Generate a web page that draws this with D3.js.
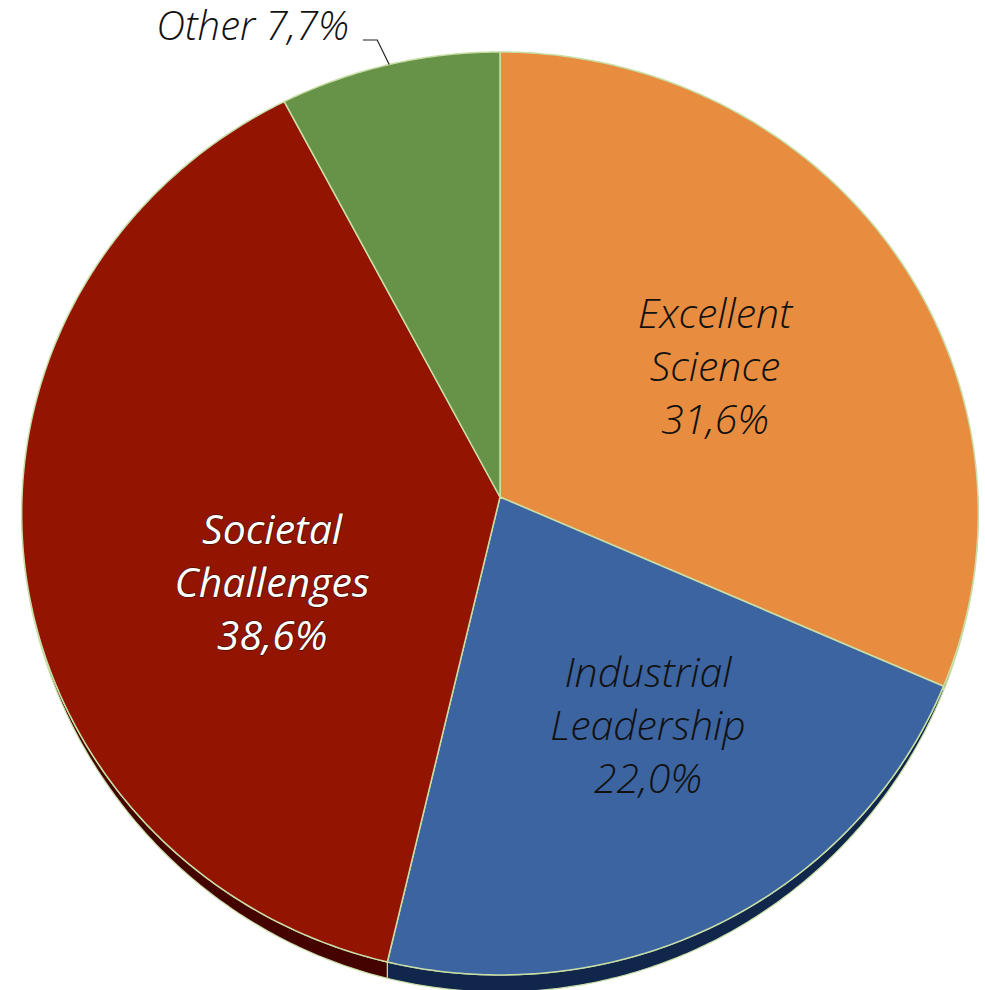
<!DOCTYPE html>
<html>
<head>
<meta charset="utf-8">
<script src="https://cdn.jsdelivr.net/npm/d3@7"></script>
<style>
  body { margin: 0; background: #fff; }
  text { font-family: "Open Sans", "Noto Sans", sans-serif; font-style: italic; }
</style>
</head>
<body>
<div id="chart"></div>
<script>
// data
const categories = ["Excellent Science", "Industrial Leadership", "Societal Challenges", "Other"];
const values = [31.6, 22.0, 38.6, 7.7];
const valueLabels = ["31,6%", "22,0%", "38,6%", "7,7%"];
const colors = ["#E88D40", "#3C64A0", "#921401", "#679349"];
const wallColors = ["#7a4010", "#10274B", "#450300", "#2e4a1e"];

const width = 985, height = 990;
const cx = 500, cy = 497;
const RX = 478, RY = 460.9, K = 0.0357; // perspective tilt

// label anchors in pie coords (angle deg, radius fraction), middle line
const labelLayout = [
  { angle: 57.8, r: 0.537, inside: true },
  { angle: 148.0, r: 0.574, inside: true },
  { angle: 248.8, r: 0.508, inside: true, white: true },
  { inside: false }
];

function proj(theta, rf) {
  const u = rf * Math.sin(theta), v = rf * Math.cos(theta);
  const s = 1 / (1 + K * v);
  return [cx + RX * u * s, cy - RY * v * s];
}
function depth(theta) {
  const v = Math.cos(theta);
  return 17 * Math.pow(Math.max(0, -v), 1.5);
}

const svg = d3.select("#chart").append("svg")
  .attr("width", width).attr("height", height);

const pie = d3.pie().sort(null).startAngle(0).endAngle(2 * Math.PI);
const arcs = pie(values);

function arcPoints(a0, a1) {
  const n = Math.max(2, Math.ceil((a1 - a0) / 0.01));
  return d3.range(n + 1).map(i => a0 + (a1 - a0) * i / n);
}

// side wall (front half only)
const wallG = svg.append("g");
arcs.forEach((d, i) => {
  const a0 = Math.max(d.startAngle, Math.PI / 2);
  const a1 = Math.min(d.endAngle, 3 * Math.PI / 2);
  if (a1 <= a0) return;
  const ts = arcPoints(a0, a1);
  const top = ts.map(t => proj(t, 1));
  const bot = ts.map(t => { const p = proj(t, 1); return [p[0], p[1] + depth(t)]; }).reverse();
  wallG.append("path")
    .attr("d", "M" + top.concat(bot).map(p => p.join(",")).join("L") + "Z")
    .attr("fill", wallColors[i])
    .attr("stroke", "#C9DEA6")
    .attr("stroke-width", 1.2)
    .attr("stroke-linejoin", "round");
});

// top faces
const faceG = svg.append("g");
arcs.forEach((d, i) => {
  const pts = [[cx, cy]].concat(arcPoints(d.startAngle, d.endAngle).map(t => proj(t, 1)));
  faceG.append("path")
    .attr("d", "M" + pts.map(p => p.join(",")).join("L") + "Z")
    .attr("fill", colors[i])
    .attr("stroke", "#C9DEA6")
    .attr("stroke-width", 1.5)
    .attr("stroke-linejoin", "round");
});

// labels
const fontSize = 41, lineH = 53;
const labelG = svg.append("g");
arcs.forEach((d, i) => {
  const L = labelLayout[i];
  if (L.inside) {
    const p = proj(L.angle * Math.PI / 180, L.r);
    const words = categories[i].split(" ").concat([valueLabels[i]]);
    const t = labelG.append("text")
      .attr("text-anchor", "middle")
      .attr("font-size", fontSize)
      .attr("font-weight", L.white ? 400 : 300)
      .attr("fill", L.white ? "#fff" : "#111");
    if (L.white) {
      t.attr("stroke", "#4a1208").attr("stroke-width", 1.4)
        .attr("paint-order", "stroke").attr("stroke-linejoin", "round");
    }
    words.forEach((w, j) => {
      t.append("tspan")
        .attr("x", p[0])
        .attr("y", p[1] + (j - 1) * lineH + fontSize * 0.36)
        .text(w);
    });
  } else {
    const mid = (d.startAngle + d.endAngle) / 2;
    const rim = proj(mid, 1);
    const lx = 349, ly = 40;
    labelG.append("text")
      .attr("x", lx).attr("y", ly)
      .attr("text-anchor", "end")
      .attr("font-size", 40)
      .attr("font-weight", 300)
      .attr("fill", "#111")
      .text(categories[i] + " " + valueLabels[i]);
    labelG.append("path")
      .attr("d", `M${lx + 14},${ly}L${rim[0] - 12},${ly}L${rim[0]},${rim[1]}`)
      .attr("fill", "none")
      .attr("stroke", "#222")
      .attr("stroke-width", 1.2);
  }
});
</script>
</body>
</html>
